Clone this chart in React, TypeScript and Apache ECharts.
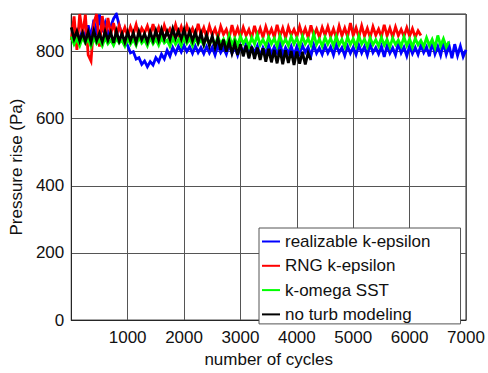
import React, { useEffect, useRef } from "react";
import * as echarts from "echarts";

const cycleStep = 50;

const seriesNames = ["realizable k-epsilon", "RNG k-epsilon", "k-omega SST", "no turb modeling"];
const seriesColors = ["#0000ff", "#ff0000", "#00ff00", "#000000"];

const realizable = [
  845, 828, 858, 832, 868, 838, 878, 842, 895, 848,
  910, 858, 885, 846, 875, 898, 912, 878, 848, 828,
  818, 796, 800, 778, 782, 762, 772, 755, 770, 760,
  782, 770, 792, 778, 804, 786, 812, 795, 816, 799,
  818, 800, 814, 795, 816, 797, 812, 794, 815, 796,
  813, 790, 818, 797, 811, 792, 820, 795, 814, 789,
  816, 796, 822, 791, 813, 798, 817, 788, 812, 795,
  819, 793, 814, 797, 825, 790, 812, 796, 816, 789,
  815, 794, 818, 798, 813, 787, 820, 795, 811, 792,
  817, 796, 814, 790, 821, 797, 812, 788, 816, 795,
  813, 791, 819, 796, 815, 789, 822, 797, 812, 793,
  816, 784, 818, 795, 811, 790, 824, 796, 813, 787,
  817, 794, 812, 791, 819, 797, 814, 786, 828, 793,
  815, 789, 826, 792, 818, 780, 822, 788, 816, 785, 805,
];

const rng = [
  835, 905, 805, 912, 850, 910, 790, 772, 885, 912,
  815, 906, 838, 900, 852, 885, 846, 878, 850, 872,
  846, 874, 852, 880, 845, 870, 855, 876, 848, 882,
  850, 872, 844, 878, 853, 868, 847, 880, 851, 874,
  846, 877, 852, 869, 845, 883, 850, 871, 843, 876,
  849, 868, 842, 875, 851, 866, 840, 879, 847, 870,
  843, 872, 848, 866, 841, 877, 846, 869, 842, 874,
  848, 867, 843, 880, 846, 870, 841, 873, 849, 866,
  844, 875, 847, 869, 842, 878, 848, 867, 843, 872,
  849, 874, 845, 868, 841, 876, 847, 870, 844, 885,
  848, 871, 843, 877, 846, 869, 842, 874, 849, 867,
  844, 880, 847, 870, 843, 873, 848, 866, 845, 871,
  846, 868, 843, 862, 848,
];

const kOmegaSST = [
  845, 822, 838, 818, 842, 825, 836, 815, 840, 824,
  835, 817, 841, 823, 834, 819, 839, 826, 833, 816,
  840, 822, 836, 818, 843, 825, 835, 817, 841, 823,
  837, 819, 842, 826, 834, 816, 840, 822, 836, 818,
  843, 824, 838, 817, 841, 823, 835, 819, 846, 822,
  840, 818, 844, 823, 837, 816, 848, 821, 839, 819,
  845, 824, 838, 815, 842, 822, 850, 820, 836, 817,
  843, 823, 839, 816, 846, 821, 837, 818, 844, 822,
  840, 815, 845, 823, 838, 819, 852, 821, 837, 816,
  842, 822, 839, 817, 845, 820, 836, 814, 843, 821,
  838, 816, 846, 822, 837, 815, 841, 820, 835, 817,
  842, 819, 836, 814, 840, 821, 834, 816, 843, 818,
  837, 813, 839, 820, 833, 815, 841, 818, 836, 812,
  848, 817, 838, 814, 830,
];

const noTurb = [
  872, 838, 860, 832, 856, 830, 858, 828, 862, 833,
  855, 829, 860, 834, 857, 826, 861, 831, 854, 828,
  858, 832, 856, 827, 860, 835, 853, 829, 859, 833,
  862, 834, 866, 838, 860, 836, 868, 840, 862, 837,
  865, 835, 861, 832, 858, 828, 855, 822, 850, 818,
  846, 812, 840, 805, 836, 800, 830, 795, 825, 790,
  822, 786, 818, 780, 815, 778, 812, 775, 810, 770,
  808, 768, 805, 765, 806, 762, 804, 766, 802, 760,
  800, 764, 798, 762, 796, 775,
];

const xTicks = [0, 1000, 2000, 3000, 4000, 5000, 6000, 7000];
const yTicks = [0, 200, 400, 600, 800];
const yMax = 912;

const FONT = "'Liberation Sans', Arial, Helvetica, sans-serif";

function toPairs(values: number[]) {
  return values.map((v, i) => [i * cycleStep, v]);
}

export default function App() {
  const ref = useRef<HTMLDivElement>(null);
  useEffect(() => {
    if (!ref.current) return;
    const chart = echarts.init(ref.current, undefined, { renderer: "svg" });
    const allData = [realizable, rng, kOmegaSST, noTurb];
    chart.setOption({
      animation: false,
      backgroundColor: "#ffffff",
      textStyle: { fontFamily: FONT },
      grid: {
        left: 69,
        right: 22,
        top: 14,
        bottom: 50,
        show: true,
        borderColor: "#262626",
        borderWidth: 1,
        backgroundColor: "transparent",
      },
      xAxis: {
        type: "value",
        min: xTicks[0],
        max: xTicks[xTicks.length - 1],
        interval: 1000,
        name: "number of cycles",
        nameLocation: "middle",
        nameGap: 27,
        nameTextStyle: { fontSize: 17, color: "#111", fontFamily: FONT },
        axisLine: { show: true, lineStyle: { color: "#262626" } },
        axisTick: { show: false },
        axisLabel: {
          fontSize: 17,
          color: "#111",
          margin: 9,
          fontFamily: FONT,
          showMinLabel: false,
          formatter: (v: number) => (xTicks.includes(v) ? String(v) : ""),
        },
        splitLine: { show: true, lineStyle: { color: "#555", width: 1 } },
      },
      yAxis: {
        type: "value",
        min: yTicks[0],
        max: yMax,
        interval: 200,
        name: "Pressure rise (Pa)",
        nameLocation: "middle",
        nameGap: 39,
        nameTextStyle: { fontSize: 17, color: "#111", fontFamily: FONT },
        axisLine: { show: true, lineStyle: { color: "#262626" } },
        axisTick: { show: false },
        axisLabel: {
          fontSize: 17,
          color: "#111",
          margin: 7,
          fontFamily: FONT,
          showMaxLabel: false,
          formatter: (v: number) => (yTicks.includes(v) ? String(v) : ""),
        },
        splitLine: { show: true, lineStyle: { color: "#555", width: 1 } },
      },
      legend: {
        show: true,
        orient: "vertical",
        left: 259,
        top: 228,
        padding: [5, 30, 1, 3],
        itemGap: 7.3,
        itemWidth: 18,
        itemHeight: 2,
        icon: "rect",
        backgroundColor: "#ffffff",
        borderColor: "#555",
        borderWidth: 1,
        borderRadius: 0,
        textStyle: { fontSize: 17, color: "#111", fontFamily: FONT, lineHeight: 17 },
        data: seriesNames,
      },
      series: seriesNames.map((name, k) => ({
        name,
        type: "line",
        data: toPairs(allData[k]),
        showSymbol: false,
        symbol: "none",
        color: seriesColors[k],
        lineStyle: { width: 2.8, color: seriesColors[k], join: "miter" },
        itemStyle: { color: seriesColors[k] },
        z: 2 + k,
      })),
    });
    return () => chart.dispose();
  }, []);
  return <div ref={ref} style={{ width: 488, height: 373, position: "absolute", left: 0, top: 0 }} />;
}
